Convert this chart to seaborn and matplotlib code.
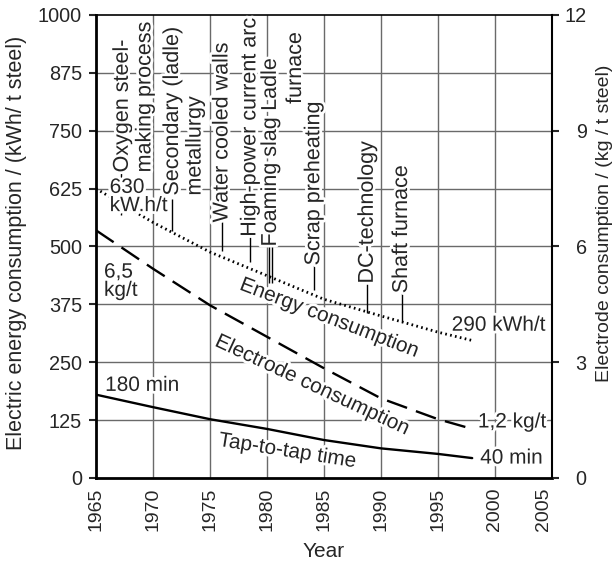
import numpy as np
import pandas as pd
import matplotlib
matplotlib.use("Agg")
import matplotlib.pyplot as plt
import matplotlib.patheffects as pe
from matplotlib.transforms import ScaledTranslation
import seaborn as sns

# ---------------- data ----------------
years = [1965, 1970, 1975, 1980, 1985, 1990, 1995, 1998]
energy_kwh = [625, 552, 488, 437, 386, 350, 315, 297]          # kWh/t (left axis)
electrode_scaled = [535, 452, 373, 305, 237, 172, 127, 106]    # electrode on left-axis scale (kg/t * 1000/12)
tap_time = [180, 153, 127, 106, 82, 64, 52, 43]                # min, plotted on left-axis scale

left_ticks = [0, 125, 250, 375, 500, 625, 750, 875, 1000]
right_ticks = [0, 3, 6, 9, 12]
year_ticks = [1965, 1970, 1975, 1980, 1985, 1990, 1995, 2000, 2005]

# vertical technology annotations: text, x centre (year), bottom (left-axis units)
tech_labels = ["Oxygen steel-\nmaking process", "Secondary (ladle)\nmetallurgy",
               "Water cooled walls", "High-power current arc", "Foaming slag",
               "Ladle", "furnace", "Scrap preheating", "DC-technology", "Shaft furnace"]
tech_x = [1968.3, 1972.7, 1976.05, 1978.5, 1980.3, 1980.3, 1982.5, 1984.1, 1988.8, 1991.8]
tech_y = [660, 610, 552, 521, 500, 793, 808, 459, 420, 399]

# leader lines: x (year), y top, y bottom
lead_x = [1967.2, 1971.7, 1976.05, 1978.5, 1980.15, 1980.45, 1984.1, 1988.8, 1991.8]
lead_top = [660, 603, 552, 521, 500, 500, 459, 420, 399]
lead_bot = [569, 534, 491, 466, 422, 422, 405, 356, 336]

df = pd.DataFrame({"year": years, "energy": energy_kwh,
                   "electrode": electrode_scaled, "time": tap_time})

# ---------------- style ----------------
sns.set_style("white")
plt.rcParams["font.family"] = ["Liberation Sans", "DejaVu Sans"]

fig = plt.figure(figsize=(6.14, 5.66), dpi=100)
ax = fig.add_axes([0.15635, 0.15548, 0.74267, 0.81802])

grid_c = "#6a6a6a"
for t in left_ticks[1:-1]:
    ax.axhline(t, color=grid_c, lw=1.0, zorder=0)
for t in year_ticks[1:-1]:
    ax.axvline(t, color=grid_c, lw=1.0, zorder=0)

sns.lineplot(data=df, x="year", y="energy", ax=ax, color="black",
             lw=2.0, zorder=3)
ax.lines[-1].set_linestyle((0, (0.6, 1.2)))
sns.lineplot(data=df, x="year", y="electrode", ax=ax, color="black",
             lw=1.7, zorder=3)
ax.lines[-1].set_linestyle((0, (9, 4)))
sns.lineplot(data=df, x="year", y="time", ax=ax, color="black",
             lw=1.7, zorder=3)

ax.set_xlim(1965, 2005)
ax.set_ylim(0, 1000)
ax.set_xticks(year_ticks)
ax.set_xticklabels([str(y) for y in year_ticks], rotation=90, fontsize=14)
ax.set_yticks(left_ticks)
ax.set_yticklabels([str(t) for t in left_ticks], fontsize=14.3)
ax.tick_params(axis="x", direction="inout", length=8, width=1.5, pad=3)
ax.tick_params(axis="y", direction="out", length=5, width=1.5, pad=5)
last = ax.get_xticklabels()[-1]
last.set_transform(last.get_transform() + ScaledTranslation(-6 / 72, 0, fig.dpi_scale_trans))
ax.set_xlabel("Year", fontsize=15, labelpad=8)
ax.set_ylabel("Electric energy consumption / (kWh/ t steel)", fontsize=15.5)
ax.yaxis.set_label_coords(-0.151, 0.508)

for s in ["left", "bottom"]:
    ax.spines[s].set_linewidth(2.0)
    ax.spines[s].set_color("black")
for s in ["top", "right"]:
    ax.spines[s].set_linewidth(1.2)
    ax.spines[s].set_color("black")

ax2 = ax.twinx()
ax2.set_ylim(0, 12)
ax2.set_yticks(right_ticks)
ax2.set_yticklabels([str(t) for t in right_ticks], fontsize=14.3, ha="right")
ax2.tick_params(axis="y", direction="out", length=5, width=1.5, pad=20)
ax2.set_ylabel("Electrode consumption / (kg / t steel)", fontsize=14)
ax2.yaxis.set_label_coords(1.0965, 0.551)
for s in ax2.spines.values():
    s.set_visible(False)
ax2.spines["right"].set_visible(True)
ax2.spines["right"].set_linewidth(1.5)
ax2.spines["right"].set_color("black")

halo = [pe.withStroke(linewidth=4, foreground="white")]

# leader lines
ax.vlines(lead_x, lead_bot, lead_top, color="black", lw=1.0, zorder=2)

for s, x, y in zip(tech_labels, tech_x, tech_y):
    ax.text(x, y, s, rotation=90, ha="center", va="bottom", fontsize=15.5,
            multialignment="left", linespacing=1.1, zorder=4, path_effects=halo)

# curve labels
ax.text(1966.2, 608, "630\nkW.h/t", ha="left", va="center", fontsize=15,
        linespacing=0.95, zorder=4, path_effects=halo)
ax.text(1965.7, 425, "6,5\nkg/t", ha="left", va="center", fontsize=15,
        linespacing=0.95, zorder=4, path_effects=halo)
ax.text(1965.8, 200, "180 min", ha="left", va="center", fontsize=15,
        zorder=4, path_effects=halo)
ax.text(1996.2, 330, "290 kWh/t", ha="left", va="center", fontsize=15,
        zorder=4, path_effects=halo)
ax.text(1998.5, 121, "1,2 kg/t", ha="left", va="center", fontsize=15,
        zorder=4, path_effects=halo)
ax.text(1998.7, 43, "40 min", ha="left", va="center", fontsize=15,
        zorder=4, path_effects=halo)

ax.text(1985.5, 345, "Energy consumption", rotation=-21, rotation_mode="anchor",
        ha="center", va="center", fontsize=15, zorder=4, path_effects=halo)
ax.text(1984.0, 200, "Electrode consumption", rotation=-25, rotation_mode="anchor",
        ha="center", va="center", fontsize=15, zorder=4, path_effects=halo)
ax.text(1981.8, 58, "Tap-to-tap time", rotation=-9, rotation_mode="anchor",
        ha="center", va="center", fontsize=15, zorder=4, path_effects=halo)

fig.savefig("out.png", dpi=100)
